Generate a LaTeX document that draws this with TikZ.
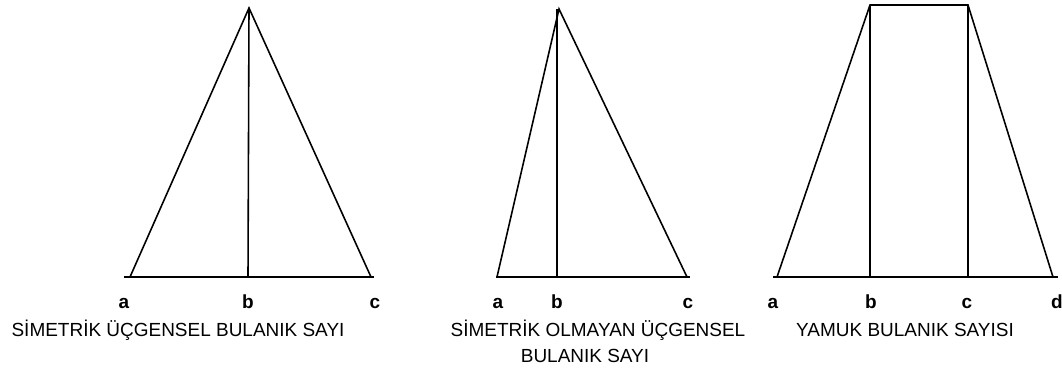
\documentclass[tikz,border=0pt]{standalone}
\usepackage{fontspec}
\setmainfont{Liberation Sans}
\usetikzlibrary{positioning}
\tikzset{
  fzline/.style={line width=0.9pt, draw=black, line join=miter},
  fzlabel/.style={font=\fontsize{10.8}{13}\selectfont\bfseries, inner sep=0pt, anchor=base},
  fztitle/.style={font=\fontsize{10.8}{13}\selectfont, inner sep=0pt, anchor=base}
}
\begin{document}
\begin{tikzpicture}[x=0.02cm, y=-0.02cm]
  \useasboundingbox (0,0) rectangle (1062,368);
  % symmetric triangle
  \coordinate (sa) at (130,277);
  \coordinate (sb) at (249,8);
  \coordinate (sc) at (371,277);
  \coordinate (sbase) at (248,277);
  \draw[fzline] (124,277) coordinate (sl) -- (374,277) coordinate (sr);
  \draw[fzline] (sa) -- (sb) -- (sc);
  \draw[fzline] (sb) -- (sbase);
  \node[fzlabel] (lsa) at (124,308) {a};
  \node[fzlabel] (lsb) at (248,308) {b};
  \node[fzlabel] (lsc) at (375,308) {c};
  \node[fztitle] (tsym) at (178,336) {SİMETRİK ÜÇGENSEL BULANIK SAYI};
  % non-symmetric triangle
  \coordinate (na) at (497,277);
  \coordinate (nb) at (559,9);
  \coordinate (nc) at (687,277);
  \coordinate (nbase) at (557,277);
  \draw[fzline] (496,277) coordinate (nl) -- (690,277) coordinate (nr);
  \draw[fzline] (na) -- (nb) -- (nc);
  \draw[fzline] (557,9) -- (nbase);
  \node[fzlabel] (lna) at (498,308) {a};
  \node[fzlabel] (lnb) at (557,308) {b};
  \node[fzlabel] (lnc) at (688,308) {c};
  \node[fztitle] (tnon) at (598,336) {SİMETRİK OLMAYAN ÜÇGENSEL};
  \node[fztitle] (tnon2) at (585,362) {BULANIK SAYI};
  % trapezoid
  \coordinate (ta) at (777,277);
  \coordinate (tb) at (870,5);
  \coordinate (tc) at (968,5);
  \coordinate (td) at (1053,277);
  \draw[fzline] (773,277) coordinate (tl) -- (1058,277) coordinate (tr);
  \draw[fzline] (ta) -- (tb) -- (tc) -- (td);
  \draw[fzline] (tb) -- (870,277);
  \draw[fzline] (tc) -- (968,277);
  \node[fzlabel] (lta) at (773,308) {a};
  \node[fzlabel] (ltb) at (871,308) {b};
  \node[fzlabel] (ltc) at (967,308) {c};
  \node[fzlabel] (ltd) at (1057,308) {d};
  \node[fztitle] (ttrap) at (905,336) {YAMUK BULANIK SAYISI};
\end{tikzpicture}
\end{document}
